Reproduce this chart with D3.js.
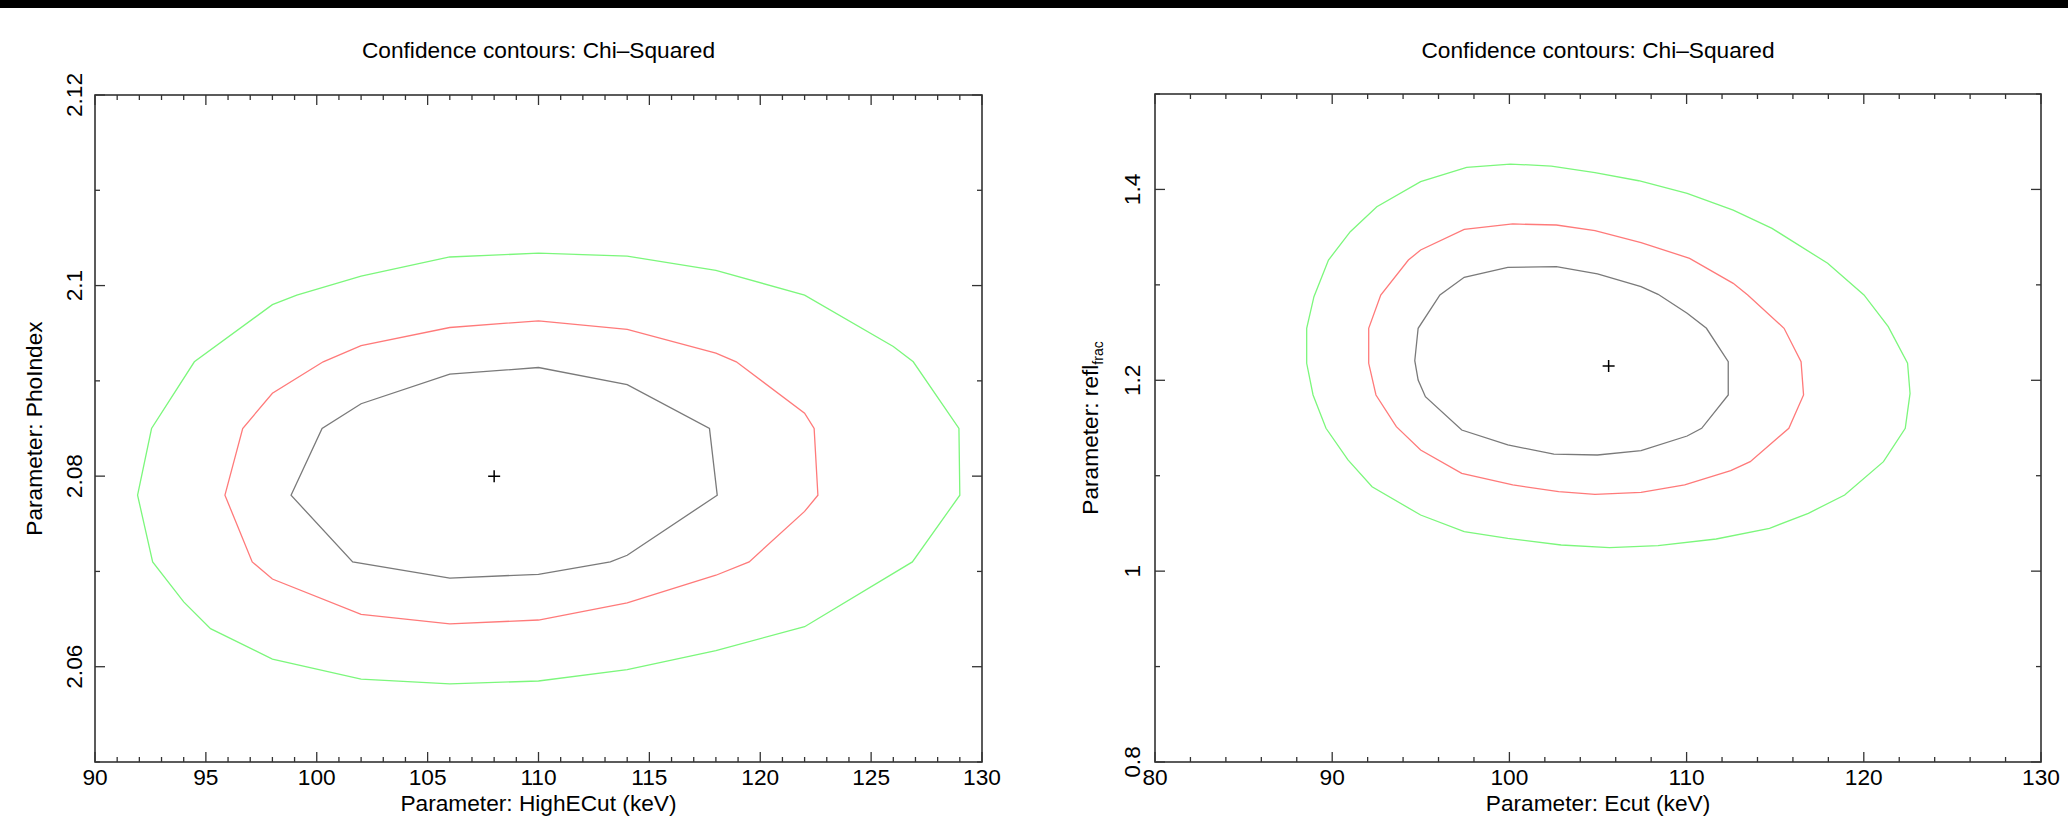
<!DOCTYPE html>
<html><head><meta charset="utf-8">
<script src="https://cdn.jsdelivr.net/npm/d3@7"></script>
<style>
body{margin:0;background:#fff;}
svg{display:block;}
text{font-family:"Liberation Sans", Arial, Helvetica, sans-serif; fill:#000;}
</style>
</head><body>
<svg id="chart" width="2068" height="817"></svg>
<script>
// ---------------- DATA ----------------
const titleText = "Confidence contours: Chi\u2013Squared";

// Left panel
const leftXLabel = "Parameter: HighECut (keV)";
const leftYLabel = "Parameter: PhoIndex";
const leftXDomain = [90, 130];
const leftYDomain = [2.05, 2.12];
const leftXMajor = [90, 95, 100, 105, 110, 115, 120, 125, 130];
const leftXTickLabels = ["90", "95", "100", "105", "110", "115", "120", "125", "130"];
const leftXMinor = d3.range(91, 130, 1).filter(v => v % 5 !== 0);
const leftYMajor = [2.06, 2.08, 2.10, 2.12];
const leftYTickLabels = ["2.06", "2.08", "2.1", "2.12"];
const leftYMinor = [2.05, 2.07, 2.09, 2.11];
const leftBest = [108, 2.08];
const leftGreen = [[91.92,2.078],[92.55,2.085],[94.48,2.092],[98.0,2.098],[99.1,2.099],[102,2.101],[106,2.103],[110,2.1034],[114,2.1031],[118,2.1016],[122,2.099],[126,2.0936],[126.9,2.092],[128.96,2.085],[129.0,2.078],[126.86,2.071],[122,2.0642],[118,2.0617],[114,2.0597],[110,2.0585],[106,2.0582],[102,2.0587],[98,2.0608],[95.21,2.064],[94,2.0668],[92.6,2.071]];
const leftRed = [[95.86,2.078],[96.66,2.085],[98,2.0887],[100.29,2.092],[102,2.0937],[106,2.0956],[110,2.0963],[114,2.0954],[118,2.0929],[118.92,2.092],[122,2.0866],[122.43,2.085],[122.6,2.078],[122,2.0763],[119.5,2.071],[118,2.0696],[114,2.0667],[110,2.0649],[106,2.0645],[102,2.0655],[98,2.0692],[97.09,2.071]];
const leftBlack = [[98.84,2.078],[100.24,2.085],[102,2.0876],[106,2.0907],[110,2.0914],[114,2.0896],[117.71,2.085],[118.06,2.078],[114,2.0717],[113.24,2.071],[110,2.0697],[106,2.0693],[101.62,2.071]];

// Right panel
const rightXLabel = "Parameter: Ecut (keV)";
const rightYLabelMain = "Parameter: refl";
const rightYLabelSub = "frac";
const rightXDomain = [80, 130];
const rightYDomain = [0.8, 1.5];
const rightXMajor = [80, 90, 100, 110, 120, 130];
const rightXTickLabels = ["80", "90", "100", "110", "120", "130"];
const rightXMinor = d3.range(82, 130, 2).filter(v => v % 10 !== 0);
const rightYMajor = [0.8, 1.0, 1.2, 1.4];
const rightYTickLabels = ["0.8", "1", "1.2", "1.4"];
const rightYMinor = [0.9, 1.1, 1.3, 1.5];
const rightBest = [105.6, 1.215];
const rightGreen = [[88.56,1.2545],[88.56,1.2178],[88.92,1.1846],[89.65,1.1497],[90.89,1.1165],[92.25,1.0885],[94.99,1.0588],[97.45,1.0413],[99.91,1.0344],[102.92,1.0274],[105.65,1.0246],[108.39,1.0267],[111.67,1.0337],[114.68,1.0449],[116.87,1.0606],[118.92,1.0798],[121.11,1.1147],[122.34,1.1497],[122.61,1.1863],[122.47,1.2178],[121.38,1.2562],[120.01,1.2894],[117.96,1.3226],[114.82,1.3592],[112.63,1.3784],[110.03,1.3959],[107.3,1.4091],[104.83,1.4175],[102.37,1.4245],[100.05,1.4266],[97.59,1.4232],[94.99,1.4081],[92.52,1.3819],[91.02,1.3557],[89.79,1.326],[88.97,1.2876]];
const rightRed = [[92.06,1.2545],[92.06,1.2178],[92.47,1.1846],[93.62,1.1514],[94.99,1.1269],[97.31,1.1025],[100.19,1.0903],[102.78,1.0833],[104.83,1.0805],[107.43,1.0826],[109.89,1.0903],[112.49,1.1053],[113.59,1.1147],[115.77,1.1497],[116.6,1.1846],[116.46,1.2195],[115.5,1.2545],[113.45,1.2894],[112.63,1.3016],[110.17,1.3278],[107.43,1.3442],[104.83,1.3568],[102.65,1.3627],[100.19,1.3638],[97.45,1.3582],[94.99,1.3365],[94.3,1.326],[92.74,1.2894]];
const rightBlack = [[94.66,1.2205],[94.85,1.2545],[96.08,1.2894],[97.45,1.3079],[99.91,1.3184],[102.65,1.3191],[104.97,1.3114],[107.43,1.2981],[108.39,1.2901],[110.03,1.2702],[111.12,1.2545],[112.35,1.2195],[112.35,1.1846],[110.85,1.1497],[110.03,1.1416],[107.43,1.1262],[104.97,1.1217],[102.51,1.1227],[99.91,1.1322],[97.31,1.1479],[95.26,1.1828],[94.85,1.2003]];

// ---------------- DRAW ----------------
const svg = d3.select("#chart");
svg.append("rect").attr("x",0).attr("y",0).attr("width",2068).attr("height",817).attr("fill","#fff");
svg.append("rect").attr("x",0).attr("y",0).attr("width",2068).attr("height",8).attr("fill","#000");

const FONT = 22.7;
const colors = {green:"#7cf77c", red:"#ff7a7a", black:"#7a7a7a"};

function panel(cfg) {
  const x = d3.scaleLinear().domain(cfg.xDomain).range([cfg.left, cfg.right]);
  const y = d3.scaleLinear().domain(cfg.yDomain).range([cfg.bottom, cfg.top]);
  const g = svg.append("g");

  // contours
  const line = d3.line().x(d => x(d[0])).y(d => y(d[1])).curve(d3.curveLinearClosed);
  [[cfg.green, colors.green],[cfg.red, colors.red],[cfg.black, colors.black]].forEach(([pts,c]) => {
    g.append("path").attr("d", line(pts)).attr("fill","none").attr("stroke", c).attr("stroke-width",1.3);
  });

  // best-fit marker
  const bx = x(cfg.best[0]), by = y(cfg.best[1]);
  g.append("path").attr("d", `M${bx-6},${by}H${bx+6}M${bx},${by-6}V${by+6}`)
    .attr("stroke","#000").attr("stroke-width",1.5).attr("fill","none");

  // frame
  g.append("rect").attr("x", cfg.left).attr("y", cfg.top)
    .attr("width", cfg.right - cfg.left).attr("height", cfg.bottom - cfg.top)
    .attr("fill","none").attr("stroke","#333").attr("stroke-width",1.6);

  const tickStroke = "#333";
  const MAJ = 10, MIN = 5;
  function xt(vals, len) {
    vals.forEach(v => {
      const px = x(v);
      g.append("line").attr("x1",px).attr("x2",px).attr("y1",cfg.bottom).attr("y2",cfg.bottom-len).attr("stroke",tickStroke).attr("stroke-width",1.3);
      g.append("line").attr("x1",px).attr("x2",px).attr("y1",cfg.top).attr("y2",cfg.top+len).attr("stroke",tickStroke).attr("stroke-width",1.3);
    });
  }
  function yt(vals, len) {
    vals.forEach(v => {
      const py = y(v);
      g.append("line").attr("x1",cfg.left).attr("x2",cfg.left+len).attr("y1",py).attr("y2",py).attr("stroke",tickStroke).attr("stroke-width",1.3);
      g.append("line").attr("x1",cfg.right).attr("x2",cfg.right-len).attr("y1",py).attr("y2",py).attr("stroke",tickStroke).attr("stroke-width",1.3);
    });
  }
  xt(cfg.xMajor, MAJ); xt(cfg.xMinor, MIN);
  yt(cfg.yMajor, MAJ); yt(cfg.yMinor, MIN);

  cfg.xMajor.forEach((v,i) => {
    g.append("text").attr("x", x(v)).attr("y", 785).attr("text-anchor","middle")
      .attr("font-size", FONT).text(cfg.xTickLabels[i]);
  });
  cfg.yMajor.forEach((v,i) => {
    const tx = cfg.yTickX, ty = y(v);
    g.append("text").attr("transform", `translate(${tx},${ty}) rotate(-90)`)
      .attr("text-anchor","middle").attr("font-size", FONT).text(cfg.yTickLabels[i]);
  });

  const cx = (cfg.left + cfg.right) / 2, cy = (cfg.top + cfg.bottom) / 2;
  g.append("text").attr("x", cx).attr("y", 58).attr("text-anchor","middle").attr("font-size", FONT).text(titleText);
  g.append("text").attr("x", cx).attr("y", 811).attr("text-anchor","middle").attr("font-size", FONT).text(cfg.xLabel);
  const yl = g.append("text").attr("transform", `translate(${cfg.yLabelX},${cy}) rotate(-90)`)
    .attr("text-anchor","middle").attr("font-size", FONT);
  yl.append("tspan").text(cfg.yLabel);
  if (cfg.yLabelSub) {
    yl.append("tspan").attr("font-size", 14).attr("dy", 5).text(cfg.yLabelSub);
  }
}

panel({
  left: 95, right: 982, top: 95, bottom: 762,
  xDomain: leftXDomain, yDomain: leftYDomain,
  xMajor: leftXMajor, xTickLabels: leftXTickLabels, xMinor: leftXMinor,
  yMajor: leftYMajor, yTickLabels: leftYTickLabels, yMinor: leftYMinor,
  yTickX: 82, yLabelX: 42,
  xLabel: leftXLabel, yLabel: leftYLabel,
  best: leftBest, green: leftGreen, red: leftRed, black: leftBlack
});

panel({
  left: 1155, right: 2041, top: 94, bottom: 762,
  xDomain: rightXDomain, yDomain: rightYDomain,
  xMajor: rightXMajor, xTickLabels: rightXTickLabels, xMinor: rightXMinor,
  yMajor: rightYMajor, yTickLabels: rightYTickLabels, yMinor: rightYMinor,
  yTickX: 1140, yLabelX: 1098,
  xLabel: rightXLabel, yLabel: rightYLabelMain, yLabelSub: rightYLabelSub,
  best: rightBest, green: rightGreen, red: rightRed, black: rightBlack
});
</script>
</body></html>
